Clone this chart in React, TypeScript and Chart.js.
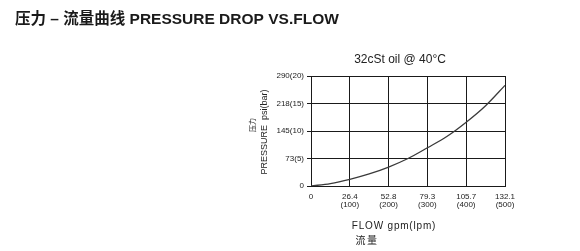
import React, { useEffect, useRef } from "react";
import { Chart, registerables } from "chart.js";

Chart.register(...registerables);

// ---- data ----
const flowLpm = [0, 50, 100, 150, 200, 250, 300, 350, 400, 450, 500];
const pressureBar = [0, 0.45, 1.22, 2.2, 3.45, 5.0, 6.95, 9.0, 11.6, 14.6, 18.3];

const xTickValues = [0, 100, 200, 300, 400, 500];
const xTickLabels: (string | string[])[] = [
  "0",
  ["26.4", "(100)"],
  ["52.8", "(200)"],
  ["79.3", "(300)"],
  ["105.7", "(400)"],
  ["132.1", "(500)"],
];
const yTickValues = [0, 5, 10, 15, 20];
const yTickLabels = ["0", "73(5)", "145(10)", "218(15)", "290(20)"];

const headerText = "压力 – 流量曲线 PRESSURE DROP VS.FLOW";
const chartTitle = "32cSt oil @ 40°C";
const yTitleEn = "PRESSURE  psi(bar)";
const yTitleCn = "压力";
const xTitleEn = "FLOW gpm(lpm)";
const xTitleCn = "流量";

const FONT = '"Liberation Sans", Arial, "Noto Sans CJK SC", sans-serif';

const textPlugin = {
  id: "texts",
  afterDraw(chart: any) {
    const ctx = chart.ctx as CanvasRenderingContext2D;
    const area = chart.chartArea;
    ctx.save();
    ctx.fillStyle = "#1a1a1a";
    // header
    ctx.font = `bold 15.5px ${FONT}`;
    ctx.textAlign = "left";
    ctx.textBaseline = "middle";
    ctx.fillText(headerText, 15, 20);

    // chart title
    ctx.fillStyle = "#222";
    ctx.font = `12px ${FONT}`;
    ctx.textAlign = "center";
    ctx.fillText(chartTitle, area.left + (area.right - area.left) / 2 - 8, area.top - 16);

    // x titles
    (ctx as any).letterSpacing = "0.8px";
    ctx.font = `10px ${FONT}`;
    ctx.fillText(xTitleEn, 394, 226);
    (ctx as any).letterSpacing = "1.5px";
    ctx.font = `10px ${FONT}`;
    ctx.fillText(xTitleCn, 367, 241);
    (ctx as any).letterSpacing = "0px";

    // y titles (rotated)
    ctx.save();
    ctx.translate(265, 132);
    ctx.rotate(-Math.PI / 2);
    ctx.font = `9px ${FONT}`;
    ctx.fillText(yTitleEn, 0, 0);
    ctx.restore();

    ctx.save();
    ctx.translate(253, 125);
    ctx.rotate(-Math.PI / 2);
    ctx.font = `7px ${FONT}`;
    ctx.fillText(yTitleCn, 0, 0);
    ctx.restore();

    ctx.restore();
  },
};

export default function App() {
  const ref = useRef<HTMLCanvasElement | null>(null);

  useEffect(() => {
    if (!ref.current) return;
    const chart = new Chart(ref.current, {
      type: "line",
      data: {
        datasets: [
          {
            data: flowLpm.map((x, i) => ({ x, y: pressureBar[i] })),
            borderColor: "#3a3a3a",
            borderWidth: 1.3,
            pointRadius: 0,
            tension: 0,
            cubicInterpolationMode: "monotone",
            fill: false,
          },
        ],
      },
      options: {
        animation: false,
        responsive: false,
        maintainAspectRatio: false,
        layout: { padding: { left: 271, right: 75, top: 76, bottom: 35 } },
        plugins: {
          legend: { display: false },
          title: { display: false },
          tooltip: { enabled: false },
        },
        scales: {
          x: {
            type: "linear",
            min: 0,
            max: 500,
            afterBuildTicks: (scale: any) => {
              scale.ticks = xTickValues.map((v) => ({ value: v }));
            },
            afterFit: (scale: any) => {
              scale.height = 30;
            },
            ticks: {
              autoSkip: false,
              maxRotation: 0,
              padding: 7,
              color: "#222",
              font: { family: FONT, size: 8, lineHeight: 1.0 },
              callback: (_v: any, i: number) => xTickLabels[i],
            },
            grid: { color: "#1a1a1a", lineWidth: 1, drawTicks: false },
            border: { display: true, color: "#1a1a1a", width: 1 },
          },
          y: {
            type: "linear",
            min: 0,
            max: 20,
            afterBuildTicks: (scale: any) => {
              scale.ticks = yTickValues.map((v) => ({ value: v }));
            },
            afterFit: (scale: any) => {
              scale.width = 40;
            },
            ticks: {
              autoSkip: false,
              padding: 3,
              color: "#222",
              font: { family: FONT, size: 8 },
              callback: (_v: any, i: number) => yTickLabels[i],
            },
            grid: { color: "#1a1a1a", lineWidth: 1, drawTicks: true, tickLength: 4 },
            border: { display: true, color: "#1a1a1a", width: 1 },
          },
        },
      },
      plugins: [textPlugin],
    } as any);
    return () => chart.destroy();
  }, []);

  return (
    <div style={{ position: "absolute", left: 0, top: 0, width: 580, height: 251, background: "#fff" }}>
      <canvas ref={ref} width={580} height={251} style={{ display: "block", width: 580, height: 251 }} />
    </div>
  );
}
